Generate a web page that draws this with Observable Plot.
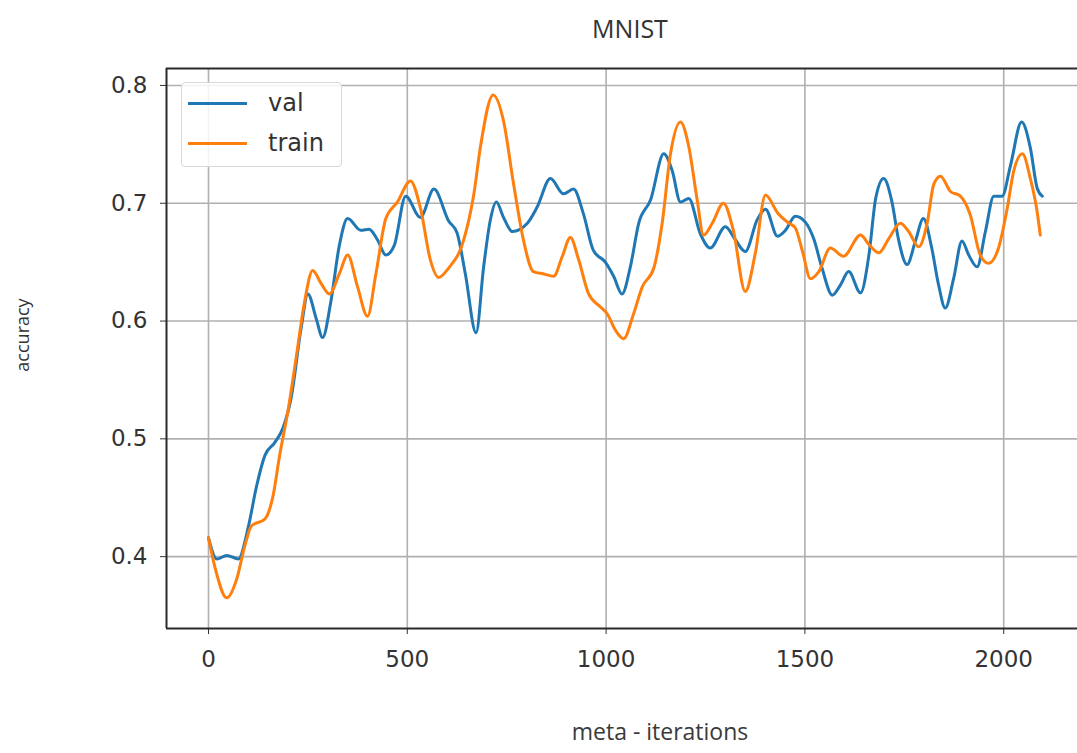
<!DOCTYPE html>
<html>
<head>
<meta charset="utf-8">
<script src="https://cdn.jsdelivr.net/npm/d3@7"></script>
<script src="https://cdn.jsdelivr.net/npm/@observablehq/plot@0.6"></script>
<style>
  body { margin: 0; background: #fff; }
  #wrap { position: relative; width: 1077px; height: 753px; overflow: hidden; background: #fff; }
  #chart { position: absolute; left: 0; top: 0; }
  .txt { position: absolute; font-family: "Open Sans", sans-serif; color: #333; white-space: nowrap; line-height: 1; }
  #title { left: 530px; width: 200px; top: 16px; text-align: center; font-size: 25px; }
  #xlabel { left: 460px; width: 400px; top: 720px; text-align: center; font-size: 23px; color: #3a3a3a; }
  #ylabel { left: 22px; top: 335px; font-size: 18px; transform: translate(-50%, -50%) rotate(-90deg); }
  #legend { position: absolute; left: 181px; top: 82px; width: 161px; height: 85px; box-sizing: border-box;
            border: 1px solid #d8d8d8; border-radius: 4px; background: rgba(255,255,255,0.85); }
  .lg-line { position: absolute; left: 6px; width: 59px; height: 3px; }
  .lg-text { position: absolute; left: 86px; font-family: "DejaVu Sans", sans-serif; font-size: 24px; color: #333; line-height: 1; }
</style>
</head>
<body>
<div id="wrap">
  <div id="chart"></div>
  <div id="title" class="txt">MNIST</div>
  <div id="xlabel" class="txt">meta - iterations</div>
  <div id="ylabel" class="txt">accuracy</div>
  <div id="legend"></div>
</div>
<script>
// ---- data ----
const seriesNames = ["val", "train"];
const seriesColors = ["#1f77b4", "#ff7f0e"];

const valX = [0, 21, 46, 75, 100, 121, 142, 167, 187, 208, 233, 250, 271, 287, 308, 329, 350, 383, 404, 425, 446, 467, 496, 533, 567, 604, 625, 646, 673,
  692, 709, 724, 742, 764, 802, 827, 860, 893, 918, 943, 968, 998, 1019, 1040, 1061, 1082, 1112, 1145, 1166, 1187, 1208, 1237, 1262, 1300, 1325, 1350, 1380, 1401,
  1431, 1451, 1476, 1501, 1522, 1543, 1569, 1590, 1610, 1640, 1661, 1678, 1698, 1719, 1735, 1757, 1778, 1798, 1819, 1836, 1853, 1874, 1895, 1912, 1933, 1954,
  1975, 1996, 2017, 2045, 2067, 2084, 2097];
const valY = [0.416, 0.398, 0.401, 0.398, 0.425, 0.46, 0.486, 0.497, 0.509, 0.535, 0.594, 0.623, 0.602, 0.586, 0.617, 0.664, 0.687, 0.677, 0.678, 0.669, 0.656, 0.664, 0.706, 0.688, 0.712, 0.685, 0.675, 0.64, 0.590,
  0.646, 0.686, 0.701, 0.688, 0.676, 0.683, 0.697, 0.721, 0.708, 0.712, 0.691, 0.66, 0.65, 0.638, 0.623, 0.646, 0.683, 0.703, 0.742, 0.728, 0.701, 0.704, 0.674, 0.662, 0.68, 0.669, 0.659, 0.686, 0.695,
  0.672, 0.677, 0.689, 0.684, 0.67, 0.645, 0.622, 0.631, 0.642, 0.624, 0.656, 0.704, 0.721, 0.701, 0.67, 0.648, 0.668, 0.687, 0.662, 0.631, 0.611, 0.636, 0.668, 0.656, 0.646, 0.676,
  0.706, 0.706, 0.732, 0.769, 0.747, 0.713, 0.706];

const trainX = [0, 17, 46, 71, 92, 108, 142, 162, 179, 200, 221, 242, 262, 283, 304, 329, 350, 375, 400, 421, 446, 475, 508, 533, 558, 579, 604, 642, 667,
  684, 716, 742, 767, 792, 817, 843, 868, 890, 910, 931, 956, 986, 1003, 1024, 1044, 1069, 1091, 1120, 1141, 1162, 1187, 1208, 1229, 1245, 1267, 1295, 1320, 1350, 1375, 1401,
  1431, 1456, 1476, 1494, 1514, 1535, 1564, 1597, 1640, 1661, 1686, 1711, 1740, 1761, 1786, 1808, 1824, 1841, 1866, 1891, 1916, 1941, 1962, 1987, 2009, 2025, 2047, 2067, 2084, 2092];
const trainY = [0.416, 0.39, 0.365, 0.381, 0.41, 0.426, 0.432, 0.451, 0.486, 0.524, 0.57, 0.617, 0.643, 0.632, 0.623, 0.64, 0.656, 0.629, 0.604, 0.64, 0.687, 0.701, 0.719, 0.696, 0.652, 0.637, 0.645, 0.669, 0.707,
  0.748, 0.792, 0.77, 0.717, 0.669, 0.642, 0.64, 0.638, 0.655, 0.671, 0.652, 0.623, 0.612, 0.606, 0.592, 0.585, 0.606, 0.629, 0.645, 0.683, 0.742, 0.769, 0.748, 0.703, 0.673, 0.683, 0.7, 0.677, 0.625, 0.657, 0.707,
  0.692, 0.684, 0.679, 0.659, 0.636, 0.642, 0.662, 0.655, 0.673, 0.665, 0.658, 0.67, 0.683, 0.676, 0.663, 0.684, 0.716, 0.723, 0.71, 0.706, 0.69, 0.656, 0.649, 0.662, 0.696, 0.727, 0.742, 0.721, 0.693, 0.673];

const xTicks = [0, 500, 1000, 1500, 2000];
const yTicks = [0.4, 0.5, 0.6, 0.7, 0.8];
const xDomain = [-105.6, 2185.6];
const yDomain = [0.339, 0.8144];

// ---- build tables ----
const val = valX.map((x, i) => ({x, y: valY[i]}));
const train = trainX.map((x, i) => ({x, y: trainY[i]}));

const chart = Plot.plot({
  width: 1077,
  height: 753,
  marginLeft: 166,
  marginRight: 0,
  marginTop: 68,
  marginBottom: 125,
  style: {fontFamily: "DejaVu Sans, sans-serif", fontSize: "23px", color: "#333", background: "transparent", overflow: "visible"},
  x: {domain: xDomain, ticks: xTicks, tickSize: 6, tickPadding: 16, label: null, tickFormat: d3.format("d")},
  y: {domain: yDomain, ticks: yTicks, tickSize: 6, tickPadding: 13, label: null, tickFormat: d3.format(".1f")},
  marks: [
    Plot.ruleX(xTicks, {stroke: "#b0b0b0", strokeWidth: 1.6}),
    Plot.ruleY(yTicks, {stroke: "#b0b0b0", strokeWidth: 1.6}),
    Plot.line(val, {x: "x", y: "y", stroke: seriesColors[0], strokeWidth: 3, curve: "monotone-x"}),
    Plot.line(train, {x: "x", y: "y", stroke: seriesColors[1], strokeWidth: 3, curve: "monotone-x"}),
    Plot.ruleX([xDomain[0]], {stroke: "#2a2a2a", strokeWidth: 2}),
    Plot.ruleY(yDomain, {stroke: "#2a2a2a", strokeWidth: 2})
  ]
});
document.getElementById("chart").appendChild(chart);

// ---- legend ----
const legend = document.getElementById("legend");
seriesNames.forEach((name, i) => {
  const line = document.createElement("div");
  line.className = "lg-line";
  line.style.top = (19 + i * 40) + "px";
  line.style.background = seriesColors[i];
  legend.appendChild(line);
  const t = document.createElement("div");
  t.className = "lg-text";
  t.style.top = (8 + i * 40) + "px";
  t.textContent = name;
  legend.appendChild(t);
});
</script>
</body>
</html>
